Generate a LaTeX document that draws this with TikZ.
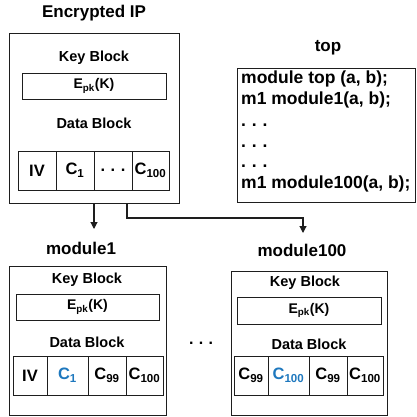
\documentclass[tikz,border=0pt]{standalone}
\usepackage{fontspec}
\setmainfont{Liberation Sans}
\usetikzlibrary{arrows.meta}
\definecolor{cblue}{RGB}{30,120,190}
\definecolor{lne}{RGB}{30,30,30}
\begin{document}
\begin{tikzpicture}[x=1pt,y=-1pt,
  title/.style={font=\bfseries\fontsize{17}{20}\selectfont, inner sep=0},
  lbl/.style={font=\bfseries\fontsize{14.5}{17}\selectfont, inner sep=0},
  box/.style={draw=lne, line width=0.9pt, inner sep=0},
  cell/.style={draw=lne, line width=0.9pt, inner sep=0, minimum height=39, font=\bfseries\fontsize{16.5}{19}\selectfont},
  code/.style={font=\bfseries\fontsize{17.5}{20}\selectfont, inner sep=0, anchor=west},
  arr/.style={line width=1.1pt, draw=lne, -{Triangle[length=7pt,width=7pt]}}
]
\useasboundingbox (0,0) rectangle (416,417);

% Encrypted IP
\node[title] (tEIP) at (94,13) {Encrypted IP};
\node[box, minimum width=170, minimum height=170] (EIP) at (94,118) {};
\node[lbl] (kb0) at (94,58) {Key Block};
\node[box, minimum width=144, minimum height=26, font=\bfseries\fontsize{14}{17}\selectfont] (ek0) at (94,86) {E\textsubscript{pk}(K)};
\node[lbl] (db0) at (94,123) {Data Block};
\node[cell, minimum width=38] (a1) at (37,170.5) {IV};
\node[cell, minimum width=38] (a2) at (75,170.5) {C\textsubscript{1}};
\node[cell, minimum width=38] (a3) at (113,170.5) {.\,\,.\,\,.};
\node[cell, minimum width=37] (a4) at (150.5,170.5) {C\textsubscript{100}};

% top
\node[title] (ttop) at (328,48) {top};
\node[box, minimum width=178, minimum height=134] (top) at (326,135) {};
\node[code] (l1) at (241,80) {\strut module top (a, b);};
\node[code] (l2) at (241,101) {\strut m1 module1(a, b);};
\node[code] (l3) at (241,122) {\strut .\,\,.\,\,.};
\node[code] (l4) at (241,143) {\strut .\,\,.\,\,.};
\node[code] (l5) at (241,163) {\strut .\,\,.\,\,.};
\node[code] (l6) at (241,184) {\strut m1 module100(a, b);};

% module1
\node[title] (tm1) at (81,248) {module1};
\node[box, minimum width=157, minimum height=149] (m1) at (87.5,340.5) {};
\node[lbl] (kb1) at (87,280) {Key Block};
\node[box, minimum width=143, minimum height=26, font=\bfseries\fontsize{14}{17}\selectfont] (ek1) at (87.5,307) {E\textsubscript{pk}(K)};
\node[lbl] (db1) at (87,342) {Data Block};
\node[cell, minimum width=34] (b1) at (30,375.5) {IV};
\node[cell, minimum width=41, text=cblue] (b2) at (67.5,375.5) {C\textsubscript{1}};
\node[cell, minimum width=38] (b3) at (107,375.5) {C\textsubscript{99}};
\node[cell, minimum width=37] (b4) at (144.5,375.5) {C\textsubscript{100}};

% module100
\node[title] (tm100) at (302,250) {module100};
\node[box, minimum width=156, minimum height=144] (m100) at (309,343) {};
\node[lbl] (kb2) at (305,283) {Key Block};
\node[box, minimum width=144, minimum height=27, font=\bfseries\fontsize{14}{17}\selectfont] (ek2) at (309,310.5) {E\textsubscript{pk}(K)};
\node[lbl] (db2) at (309,344) {Data Block};
\node[cell, minimum width=34] (c1) at (251,375.5) {C\textsubscript{99}};
\node[cell, minimum width=41, text=cblue] (c2) at (288.5,375.5) {C\textsubscript{100}};
\node[cell, minimum width=38] (c3) at (328,375.5) {C\textsubscript{99}};
\node[cell, minimum width=36] (c4) at (365,375.5) {C\textsubscript{100}};

% dots between modules
\node[font=\bfseries\fontsize{16}{19}\selectfont, inner sep=0] (mid) at (201,343) {.\,\,.\,\,.};

% arrows
\coordinate (s1) at (94,203);
\coordinate (e1) at (94,229);
\coordinate (s2) at (127,203);
\coordinate (k2) at (127,218);
\coordinate (e2) at (303,233);
\draw[arr] (s1) -- (e1);
\draw[arr] (s2) -- (k2) -| (e2);
\end{tikzpicture}
\end{document}
